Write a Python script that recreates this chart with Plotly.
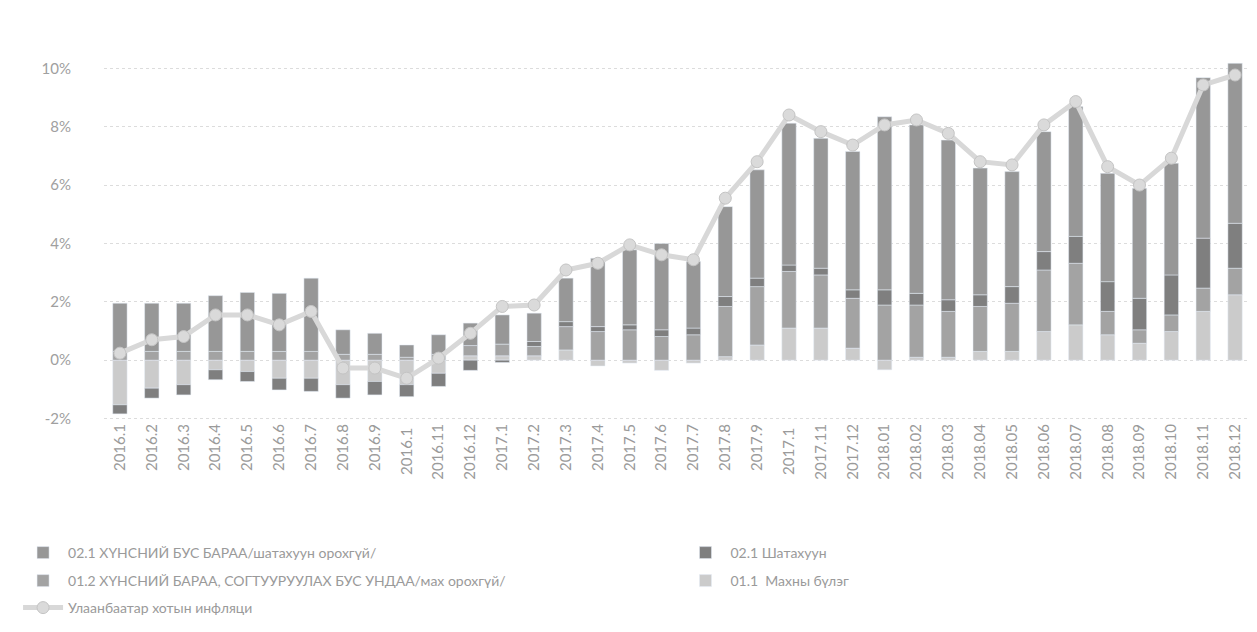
import plotly.graph_objects as go

categories = ["2016.1","2016.2","2016.3","2016.4","2016.5","2016.6","2016.7","2016.8","2016.9","2016.1 ","2016.11","2016.12",
              "2017.1","2017.2","2017.3","2017.4","2017.5","2017.6","2017.7","2017.8","2017.9","2017.1 ","2017.11","2017.12",
              "2018.01","2018.02","2018.03","2018.04","2018.05","2018.06","2018.07","2018.08","2018.09","2018.10","2018.11","2018.12"]

meat = [-1.53,-0.96,-0.84,-0.33,-0.39,-0.62,-0.62,-0.84,-0.73,-0.84,-0.45,0.15,
        0.15,0.15,0.35,-0.20,-0.10,-0.35,-0.10,0.12,0.52,1.10,1.10,0.41,
        -0.33,0.10,0.10,0.30,0.30,0.98,1.21,0.87,0.58,0.98,1.67,2.24]
food = [0.30,0.30,0.30,0.30,0.30,0.30,0.30,0.20,0.20,0.10,0.20,0.35,
        0.40,0.32,0.80,0.98,1.04,0.81,0.87,1.72,2.00,1.94,1.82,1.71,
        1.89,1.79,1.57,1.54,1.65,2.11,2.11,0.80,0.46,0.57,0.80,0.91]
fuel = [-0.31,-0.34,-0.35,-0.34,-0.34,-0.40,-0.45,-0.46,-0.46,-0.41,-0.45,-0.35,
        -0.08,0.17,0.17,0.17,0.17,0.23,0.23,0.34,0.29,0.22,0.23,0.29,
        0.52,0.40,0.40,0.40,0.57,0.63,0.92,1.02,1.08,1.37,1.71,1.54]
nonfood = [1.65,1.65,1.65,1.91,2.02,1.99,2.51,0.84,0.72,0.42,0.67,0.77,
           1.00,0.97,1.49,2.34,2.57,2.96,2.28,3.08,3.71,4.86,4.45,4.74,
           5.93,5.77,5.47,4.34,3.94,4.11,4.45,3.71,3.77,3.83,5.50,5.48]
ub_inflation = [0.24,0.70,0.81,1.55,1.55,1.21,1.67,-0.27,-0.27,-0.62,0.07,0.92,
                1.84,1.89,3.09,3.32,3.95,3.61,3.44,5.55,6.80,8.40,7.83,7.37,
                8.06,8.23,7.77,6.80,6.69,8.06,8.86,6.63,6.00,6.92,9.43,9.77]

tick_vals = [-2, 0, 2, 4, 6, 8, 10]
tick_text = ["-2%", "0%", "2%", "4%", "6%", "8%", "10%"]

name_nonfood = "02.1 ХҮНСНИЙ БУС БАРАА/шатахуун орохгүй/"
name_fuel = "02.1 Шатахуун"
name_food = "01.2 ХҮНСНИЙ БАРАА, СОГТУУРУУЛАХ БУС УНДАА/мах орохгүй/"
name_meat = "01.1  Махны бүлэг"
name_line = "Улаанбаатар хотын инфляци"

FONT = "Lato"
fig = go.Figure()
fig.add_trace(go.Bar(x=categories, y=meat, name=name_meat, marker_color="#cbcbcb", legend="legend4"))
fig.add_trace(go.Bar(x=categories, y=food, name=name_food, marker_color="#a3a3a3", legend="legend3"))
fig.add_trace(go.Bar(x=categories, y=fuel, name=name_fuel, marker_color="#7f7f7f", legend="legend2"))
fig.add_trace(go.Bar(x=categories, y=nonfood, name=name_nonfood, marker_color="#979797", legend="legend"))
fig.add_trace(go.Scatter(x=categories, y=ub_inflation, name=name_line, mode="lines+markers",
                         line=dict(color="#d8d8d8", width=5),
                         marker=dict(symbol="circle", size=12, color="#dadada", line=dict(color="#c4c4c4", width=1)),
                         legend="legend5"))

leg_font = dict(family=FONT, size=14, color="#9a9a9a")
def leg(x, y):
    return dict(xref="container", yref="container", x=x, y=y, xanchor="left", yanchor="middle",
                font=leg_font, bgcolor="rgba(0,0,0,0)", itemwidth=40, orientation="v")

fig.update_layout(
    width=1257, height=632,
    paper_bgcolor="white", plot_bgcolor="white",
    barmode="relative", bargap=0.55,
    showlegend=True,
    margin=dict(l=96, r=14, t=53, b=220, autoexpand=False),
    font=dict(family=FONT, color="#9a9a9a"),
    xaxis=dict(type="category", range=[-0.5, 35.5], tickangle=-90, tickmode="array",
               tickvals=categories, ticktext=categories,
               tickfont=dict(family=FONT, size=15, color="#9a9a9a"),
               showgrid=False, showline=False, ticks="", automargin=False),
    yaxis=dict(range=[-2.05, 10.25], tickvals=tick_vals, ticktext=tick_text,
               tickfont=dict(family=FONT, size=15, color="#a0a0a0"),
               showgrid=True, gridcolor="#dcdcdc", griddash="dot", gridwidth=1,
               zeroline=False, showline=False, ticks="", ticklabelstandoff=32, automargin=False),
    legend=leg(0.008, 1 - 545/632),
    legend2=leg(0.535, 1 - 545/632),
    legend3=leg(0.008, 1 - 573/632),
    legend4=leg(0.535, 1 - 573/632),
    legend5=leg(0.008, 1 - 600/632),
)

fig.write_html("out.html")
